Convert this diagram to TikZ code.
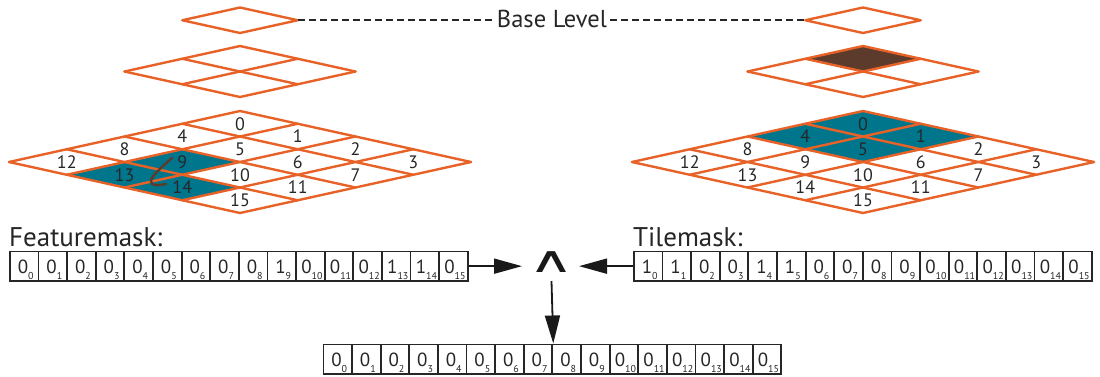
\documentclass[tikz,border=0pt]{standalone}
\usepackage{fontspec}
\setmainfont{PT Sans}
\newfontfamily\opfont{DejaVu Sans}
\usetikzlibrary{arrows.meta,calc}
\definecolor{tileorange}{RGB}{232,98,40}
\definecolor{tileteal}{RGB}{0,118,140}
\definecolor{tilebrown}{RGB}{92,58,44}

\begin{document}
\begin{tikzpicture}[x=1pt,y=-1pt,
  gridline/.style={draw=tileorange,line width=2.4pt,line cap=round,line join=round},
  tealtile/.style={fill=tileteal},
  browntile/.style={fill=tilebrown},
  tilenum/.style={font=\fontsize{18}{18}\selectfont,inner sep=0pt,text=black!85},
  leveldash/.style={draw=black!85,line width=1.6pt,dash pattern=on 7pt off 4pt},
  masklabel/.style={font=\fontsize{27}{27}\selectfont,inner sep=0pt,anchor=base west,text=black!85},
  bitcell/.style={draw=black!85,line width=1.8pt,minimum width=28.62pt,minimum height=29.5pt,inner sep=0pt,anchor=north west},
  bittext/.style={inner sep=0pt,anchor=base,text=black!85},
  flow/.style={draw=black!90,line width=1.8pt,-{Triangle[length=28pt,width=15pt]}},
  hook/.style={draw=tilebrown,line width=2.4pt,line cap=round}]
\useasboundingbox (0,0) rectangle (1100,376);

% bit cell contents: digit with a lowered index
\newcommand\bitval[2]{{\fontsize{19}{19}\selectfont #1}\raisebox{-6.5pt}{\fontsize{10}{10}\selectfont #2}}

% ---------- left pyramid ----------
% base level
\begin{scope}[shift={(240pt,-7.5pt)},x={(57.75pt,-12.75pt)},y={(-57.75pt,-12.75pt)}]
  \draw[gridline] (0,0) -- (1,0) -- (1,1) -- (0,1) -- cycle;
\end{scope}
% middle level
\begin{scope}[shift={(240pt,-46pt)},x={(57.75pt,-12.75pt)},y={(-57.75pt,-12.75pt)}]
  \foreach \k in {0,1,2} {
    \draw[gridline] (\k,0) -- (\k,2);
    \draw[gridline] (0,\k) -- (2,\k);
  }
\end{scope}
% finest level
\begin{scope}[shift={(240pt,-111pt)},x={(57.75pt,-12.75pt)},y={(-57.75pt,-12.75pt)}]
  \foreach \c/\r in {1/2,1/3,2/3}
    \fill[tealtile] (\c,\r) -- (\c+1,\r) -- (\c+1,\r+1) -- (\c,\r+1) -- cycle;
  \foreach \k in {0,...,4} {
    \draw[gridline] (\k,0) -- (\k,4);
    \draw[gridline] (0,\k) -- (4,\k);
  }
  \foreach \r in {0,...,3}
    \foreach \c in {0,...,3} {
      \pgfmathtruncatemacro\t{4*\r+\c}
      \node[tilenum] (lt\t) at (\c+0.5,\r+0.5) {\t};
    }
\end{scope}
\draw[hook] (172,158) .. controls (163,166) and (151,176) .. (151,181)
  .. controls (151,187) and (159,185) .. (166,184);

% ---------- right pyramid ----------
\begin{scope}[shift={(863pt,-7.5pt)},x={(57.75pt,-12.75pt)},y={(-57.75pt,-12.75pt)}]
  \draw[gridline] (0,0) -- (1,0) -- (1,1) -- (0,1) -- cycle;
\end{scope}
\begin{scope}[shift={(863pt,-46pt)},x={(57.75pt,-12.75pt)},y={(-57.75pt,-12.75pt)}]
  \fill[browntile] (0,0) -- (1,0) -- (1,1) -- (0,1) -- cycle;
  \foreach \k in {0,1,2} {
    \draw[gridline] (\k,0) -- (\k,2);
    \draw[gridline] (0,\k) -- (2,\k);
  }
\end{scope}
\begin{scope}[shift={(863pt,-111pt)},x={(57.75pt,-12.75pt)},y={(-57.75pt,-12.75pt)}]
  \fill[tealtile] (0,0) -- (2,0) -- (2,2) -- (0,2) -- cycle;
  \foreach \k in {0,...,4} {
    \draw[gridline] (\k,0) -- (\k,4);
    \draw[gridline] (0,\k) -- (4,\k);
  }
  \foreach \r in {0,...,3}
    \foreach \c in {0,...,3} {
      \pgfmathtruncatemacro\t{4*\r+\c}
      \node[tilenum] (rt\t) at (\c+0.5,\r+0.5) {\t};
    }
\end{scope}

% ---------- base level label ----------
\coordinate (lbase) at (297.75,20.25);
\coordinate (rbase) at (805.25,20.25);
\node[font=\fontsize{24.5}{24.5}\selectfont,inner sep=0pt,text=black!85] (base) at (552,19) {Base Level};
\draw[leveldash] (lbase) -- ([xshift=-5pt]base.west |- lbase);
\draw[leveldash] ([xshift=3pt]base.east |- rbase) -- (rbase);

% ---------- bit masks ----------
\node[masklabel] (fmlabel) at (9,246) {Featuremask:};
\node[masklabel] (tmlabel) at (633,246) {Tilemask:};

\foreach \v [count=\i from 0] in {0,0,0,0,0,0,0,0,0,1,0,0,0,1,1,0} {
  \node[bitcell] (fm\i) at (9+28.62*\i,250.5) {};
  \node[bittext] (fmt\i) at ($(fm\i.south)+(1.5,-8.5)$) {\bitval{\v}{\i}};
}
\foreach \v [count=\i from 0] in {1,1,0,0,1,1,0,0,0,0,0,0,0,0,0,0} {
  \node[bitcell] (tm\i) at (633+28.62*\i,250.5) {};
  \node[bittext] (tmt\i) at ($(tm\i.south)+(1.5,-8.5)$) {\bitval{\v}{\i}};
}
\foreach \v [count=\i from 0] in {0,0,0,0,0,0,0,0,0,0,0,0,0,0,0,0} {
  \node[bitcell] (res\i) at (322.5+28.62*\i,343.5) {};
  \node[bittext] (rest\i) at ($(res\i.south)+(1.5,-8.5)$) {\bitval{\v}{\i}};
}

% ---------- AND operator ----------
\node[inner sep=0pt,font=\opfont\fontsize{36}{36}\selectfont,text=black!90] (op) at (551.5,262.5) {\scalebox{1.75}[1]{∧}};
\draw[flow] (fm15.east) -- ([xshift=-29.5pt]op.center |- fm15.east);
\draw[flow] (tm0.west) -- ([xshift=27.5pt]op.center |- tm0.west);
\draw[flow] ([yshift=-18.5pt]op.center) -- (res7.north east);
\end{tikzpicture}
\end{document}
